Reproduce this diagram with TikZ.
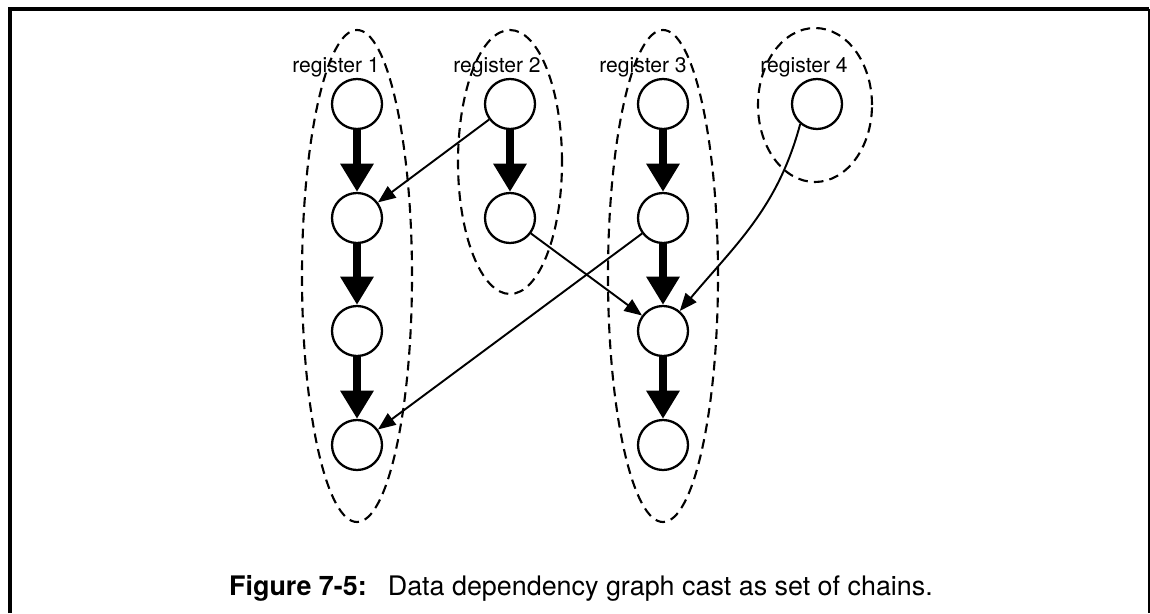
\documentclass[tikz,border=0pt]{standalone}
\usepackage{fontspec}
\setmainfont{TeX Gyre Heros}
\usetikzlibrary{positioning,arrows.meta}

\begin{document}
\begin{tikzpicture}[
  reg/.style={circle, draw, line width=1.3pt, minimum size=1cm, inner sep=0pt},
  regname/.style={inner sep=0.5pt, font=\fontsize{12}{14}\selectfont},
  chainedge/.style={line width=4.5pt, -{Triangle[length=16pt,width=18pt]}},
  depedge/.style={line width=1.1pt, -{Triangle[length=10pt,width=8pt]}},
  group/.style={dash pattern=on 5.5pt off 3.5pt, line width=1.2pt}
]
  \useasboundingbox (0,0) rectangle (23,12.26);
  % frame
  \draw[line width=2.2pt] (0.2,0) -- (0.2,12.08) -- (22.98,12.08);
  \draw[line width=0.8pt] (22.98,12.08) -- (22.98,0);

  % register 1
  \node [reg](a1) at (7.14,10.18) {};
  \node [reg](a2) at (7.14,7.9) {};
  \node [reg](a3) at (7.14,5.64) {};
  \node [reg](a4) at (7.14,3.36) {};
  % register 2
  \node [reg](b1) at (10.2,10.18) {};
  \node [reg](b2) at (10.2,7.9) {};
  % register 3
  \node [reg](c1) at (13.26,10.18) {};
  \node [reg](c2) at (13.26,7.9) {};
  \node [reg](c3) at (13.26,5.64) {};
  \node [reg](c4) at (13.26,3.36) {};
  % register 4
  \node [reg](d1) at (16.34,10.18) {};

  \node[regname, above = 0pt of a1, xshift=-0.42cm] (la) {register 1};
  \node[regname, above = 0pt of b1, xshift=-0.26cm] (lb) {register 2};
  \node[regname, above = 0pt of c1, xshift=-0.4cm] (lc) {register 3};
  \node[regname, above = 0pt of d1, xshift=-0.26cm] (ld) {register 4};

  % chains
  \draw[group] (7.14,6.74) ellipse (1.1 and 4.92);
  \draw[group] (10.2,9.02) ellipse (1.04 and 2.64);
  \draw[group] (13.26,6.74) ellipse (1.1 and 4.92);
  \draw[group] (16.3,10.16) ellipse (1.14 and 1.54);

  \draw[chainedge] (a1) -- (a2);
  \draw[chainedge] (a2) -- (a3);
  \draw[chainedge] (a3) -- (a4);
  \draw[chainedge] (b1) -- (b2);
  \draw[chainedge] (c1) -- (c2);
  \draw[chainedge] (c2) -- (c3);
  \draw[chainedge] (c3) -- (c4);

  % dependencies between chains
  \draw[depedge] (b1) -- (a2);
  \draw[depedge] (b2) -- (c3);
  \draw[depedge] (c2) -- (a4);
  \draw[depedge] (d1.230) to[out=-105, in=50] (c3);

  \node[font=\fontsize{15.3}{18}\selectfont, anchor=base] (cap) at (11.62,0.36)
    {\textbf{Figure 7-5:}\hspace{12pt}Data dependency graph cast as set of chains.};
\end{tikzpicture}
\end{document}
